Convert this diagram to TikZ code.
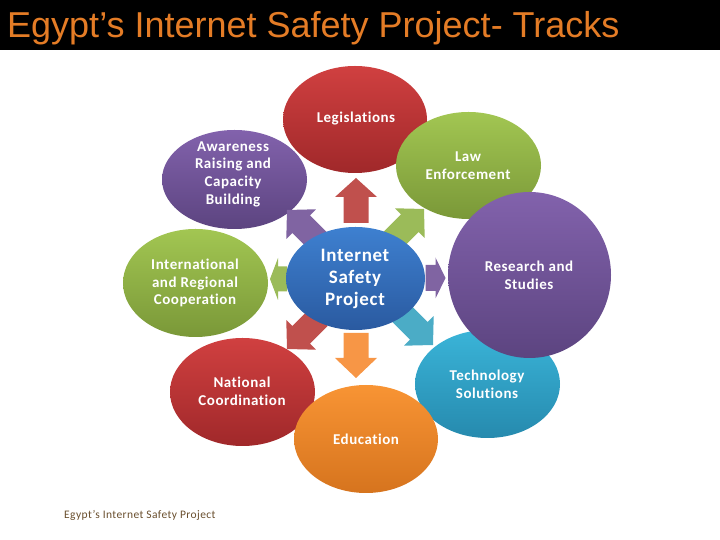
\documentclass[tikz,border=0pt]{standalone}
\usepackage{fontspec}
\setmainfont{Carlito}[Ligatures=NoCommon, LetterSpace=3.5]
\newfontfamily\titlefont{Liberation Sans}
\usetikzlibrary{shapes.geometric}
\definecolor{titleorange}{RGB}{228,124,38}
\definecolor{footbrown}{RGB}{105,78,45}
\definecolor{redT}{RGB}{208,64,64}\definecolor{redB}{RGB}{160,40,42}
\definecolor{purT}{RGB}{130,98,172}\definecolor{purB}{RGB}{92,68,128}
\definecolor{grnT}{RGB}{162,198,82}\definecolor{grnB}{RGB}{122,152,56}
\definecolor{bluT}{RGB}{62,128,208}\definecolor{bluB}{RGB}{42,90,160}
\definecolor{tealT}{RGB}{58,180,216}\definecolor{tealB}{RGB}{38,138,174}
\definecolor{orgT}{RGB}{248,148,52}\definecolor{orgB}{RGB}{214,116,30}
\definecolor{arRed}{RGB}{192,80,77}
\definecolor{arGrn}{RGB}{155,187,89}
\definecolor{arPur}{RGB}{128,100,162}
\definecolor{arTeal}{RGB}{75,172,198}
\definecolor{arOrg}{RGB}{247,150,70}
\newcommand\blockarr[8]{%
  \fill[#1, shift={(#2,#3)}, rotate=#4] (0,0) -- (-#6,#7) -- (-#6,#8) -- (-#5,#8) -- (-#5,-#8) -- (-#6,-#8) -- (-#6,-#7) -- cycle;}
\begin{document}
\begin{tikzpicture}[x=1pt,y=1pt,
  blob/.style={ellipse, inner sep=0pt, outer sep=0pt, draw=none},
  red blob/.style={blob, top color=redT, bottom color=redB},
  pur blob/.style={blob, top color=purT, bottom color=purB},
  grn blob/.style={blob, top color=grnT, bottom color=grnB},
  blu blob/.style={blob, top color=bluT, bottom color=bluB},
  teal blob/.style={blob, top color=tealT, bottom color=tealB},
  org blob/.style={blob, top color=orgT, bottom color=orgB},
  lbl/.style={text=white, font=\fontsize{15}{17.7}\selectfont\bfseries, align=center, inner sep=0pt},
  biglbl/.style={text=white, font=\fontsize{19}{22}\selectfont\bfseries, align=center, inner sep=0pt}]
\useasboundingbox (0,0) rectangle (720,540);
\fill[black] (0,489.5) rectangle (720,540);
\node[anchor=base west, text=titleorange, font=\titlefont\fontsize{36}{42}\selectfont, inner sep=0pt] (title) at (7,502.5) {Egypt’s Internet Safety Project- Tracks};

% outer ellipses
\node[red blob, minimum width=144, minimum height=107] (leg) at (355,420.5) {};
\node[grn blob, minimum width=145, minimum height=107] (law) at (468.5,374.5) {};
\node[teal blob, minimum width=145, minimum height=108] (tec) at (487.5,156) {};
\node[pur blob, minimum width=163, minimum height=166] (res) at (529.5,265) {};
\node[red blob, minimum width=145, minimum height=108] (nat) at (242.5,148) {};
\node[org blob, minimum width=144, minimum height=108] (edu) at (366,101) {};
\node[grn blob, minimum width=145, minimum height=108] (int) at (195.5,257) {};
\node[pur blob, minimum width=145, minimum height=99] (awa) at (234.5,360.5) {};

% block arrows
\blockarr{arRed}{356}{362}{90}{45}{19}{21}{12.5}
\blockarr{arOrg}{356}{162}{-90}{45}{20}{21}{12.5}
\blockarr{arPur}{445.5}{262}{0}{20}{10}{20.5}{13}
\blockarr{arGrn}{270}{261}{180}{17}{8}{21}{12.5}
\blockarr{arPur}{287}{330}{135}{45}{20}{21}{12.5}
\blockarr{arGrn}{424}{331}{45}{45}{20}{21}{12.5}
\blockarr{arRed}{287}{191}{225}{45}{20}{21}{12.5}
\blockarr{arTeal}{433}{195}{-45}{45}{20}{21}{12.5}

% centre
\node[blu blob, minimum width=139, minimum height=103] (isp) at (355.5,261.5) {};

% labels
\node[lbl] (tleg) at (356,421) {Legislations};
\node[lbl] (tlaw) at (468,374) {Law\\Enforcement};
\node[lbl] (tres) at (529,265) {Research and\\Studies};
\node[lbl] (ttec) at (487,155.5) {Technology\\Solutions};
\node[lbl] (tedu) at (366,101) {Education};
\node[lbl] (tnat) at (242,148.5) {National\\Coordination};
\node[lbl] (tint) at (195,257) {International\\and Regional\\Cooperation};
\node[lbl] (tawa) at (233,366) {Awareness\\Raising and\\Capacity\\Building};
\node[biglbl] (tisp) at (355,261) {Internet\\Safety\\Project};

\node[anchor=west, text=footbrown, font=\fontsize{11.5}{13}\selectfont, inner sep=0pt] (foot) at (64,25) {Egypt’s Internet Safety Project};
\end{tikzpicture}
\end{document}
